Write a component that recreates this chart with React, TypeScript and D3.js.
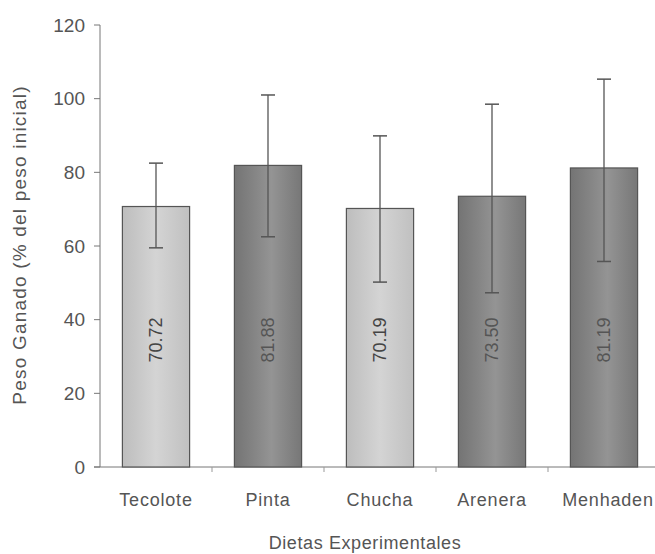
import React from "react";
import * as d3 from "d3";

const categories = ["Tecolote", "Pinta", "Chucha", "Arenera", "Menhaden"];
const means = [70.72, 81.88, 70.19, 73.5, 81.19];
const labels = ["70.72", "81.88", "70.19", "73.50", "81.19"];
const errLow = [59.5, 62.5, 50.2, 47.3, 55.8];
const errHigh = [82.5, 101, 89.9, 98.5, 105.3];
const shade = ["light", "dark", "light", "dark", "dark"];
const yTicks = [0, 20, 40, 60, 80, 100, 120];

export default function App() {
  const W = 655, H = 554;
  const x0 = 100, x1 = 660, yTop = 25, yBot = 467;
  const x = d3.scaleBand<string>().domain(categories).range([x0, x1]).paddingInner(0.4).paddingOuter(0.2);
  const y = d3.scaleLinear().domain([0, 120]).range([yBot, yTop]);
  const txt = "#555";
  const font = "'Liberation Sans', Arial, sans-serif";
  const step = (x1 - x0) / categories.length;
  return (
    <svg width={W} height={H} style={{ position: "absolute", left: 0, top: 0, background: "#fff" }}>
      <defs>
        <linearGradient id="gl" x1="0" x2="1" y1="0" y2="0">
          <stop offset="0" stopColor="#bdbdbd" />
          <stop offset="0.5" stopColor="#d4d4d4" />
          <stop offset="1" stopColor="#c0c0c0" />
        </linearGradient>
        <linearGradient id="gd" x1="0" x2="1" y1="0" y2="0">
          <stop offset="0" stopColor="#747474" />
          <stop offset="0.3" stopColor="#858585" />
          <stop offset="0.55" stopColor="#949494" />
          <stop offset="1" stopColor="#777777" />
        </linearGradient>
      </defs>
      <rect width={W} height={H} fill="#fff" />
      <line x1={x0} x2={x0} y1={yTop} y2={yBot} stroke="#777" />
      {yTicks.map((t) => (
        <g key={t}>
          <line x1={x0 - 6} x2={x0} y1={y(t)} y2={y(t)} stroke="#777" />
          <text x={x0 - 15} y={y(t)} dy="0.35em" textAnchor="end" fontSize={19} fill={txt} fontFamily={font}>
            {t}
          </text>
        </g>
      ))}
      <line x1={x0 - 6} x2={W} y1={yBot} y2={yBot} stroke="#777" />
      {categories.map((c, i) => (
        <line key={c} x1={x0 + step * (i + 1)} x2={x0 + step * (i + 1)} y1={yBot} y2={yBot + 5} stroke="#999" />
      ))}
      {categories.map((c, i) => {
        const bx = x(c)!;
        const bw = x.bandwidth();
        const cx = bx + bw / 2;
        return (
          <g key={c}>
            <rect x={bx} y={y(means[i])} width={bw} height={yBot - y(means[i])}
              fill={shade[i] === "light" ? "url(#gl)" : "url(#gd)"} stroke="#555" strokeWidth={1.2} />
            <line x1={cx} x2={cx} y1={y(errHigh[i])} y2={y(errLow[i])} stroke="#555" strokeWidth={1.3} />
            <line x1={cx - 7} x2={cx + 7} y1={y(errHigh[i])} y2={y(errHigh[i])} stroke="#555" strokeWidth={1.5} />
            <line x1={cx - 7} x2={cx + 7} y1={y(errLow[i])} y2={y(errLow[i])} stroke="#555" strokeWidth={1.5} />
            <text transform={`translate(${cx},${y(34.5)}) rotate(-90)`} textAnchor="middle" dy="0.35em" fontSize={18}
              fill={shade[i] === "light" ? "#444" : "#555"} fontFamily={font}>
              {labels[i]}
            </text>
            <text x={cx + (i === 4 ? 4 : 0)} y={500} dy="0.35em" textAnchor="middle" fontSize={18} letterSpacing={0.8}
              fill={txt} fontFamily={font}>
              {c}
            </text>
          </g>
        );
      })}
      <text x={365} y={543} dy="0.35em" textAnchor="middle" fontSize={18} letterSpacing={0.6} fill={txt} fontFamily={font}>
        Dietas Experimentales
      </text>
      <text transform={`translate(19,245) rotate(-90)`} textAnchor="middle" dy="0.35em" fontSize={19} letterSpacing={1.2}
        fill={txt} fontFamily={font}>
        Peso Ganado (% del peso inicial)
      </text>
    </svg>
  );
}
